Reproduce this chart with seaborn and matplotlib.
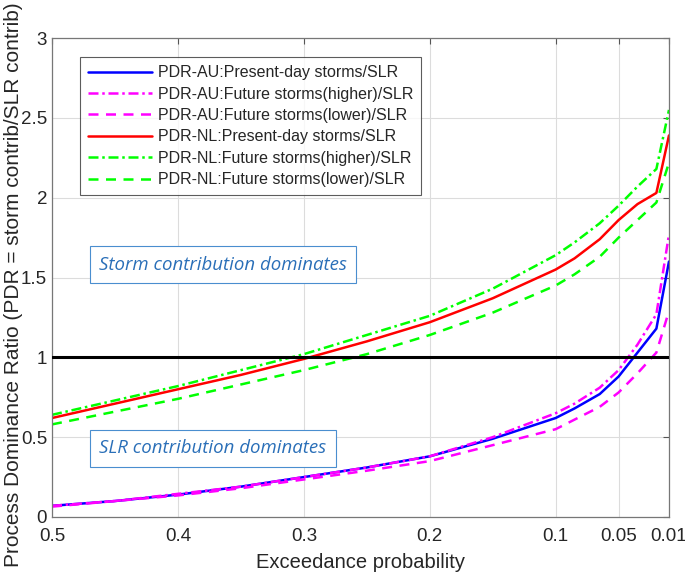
import numpy as np
import pandas as pd
import matplotlib
matplotlib.use("Agg")
import matplotlib.pyplot as plt
import seaborn as sns

# ---- data ----
prob = [0.5, 0.45, 0.4, 0.35, 0.3, 0.25, 0.2, 0.15, 0.1, 0.085, 0.065, 0.05, 0.035, 0.02, 0.01]
au_present = [0.07, 0.10, 0.14, 0.19, 0.25, 0.31, 0.38, 0.49, 0.62, 0.68, 0.77, 0.88, 1.03, 1.18, 1.60]
au_higher  = [0.07, 0.10, 0.145, 0.19, 0.25, 0.31, 0.38, 0.50, 0.65, 0.71, 0.81, 0.92, 1.08, 1.27, 1.77]
au_lower   = [0.065, 0.10, 0.135, 0.18, 0.235, 0.29, 0.35, 0.45, 0.55, 0.61, 0.69, 0.78, 0.90, 1.03, 1.29]
nl_present = [0.62, 0.71, 0.80, 0.89, 0.99, 1.10, 1.22, 1.37, 1.55, 1.62, 1.74, 1.86, 1.96, 2.03, 2.39]
nl_higher  = [0.64, 0.73, 0.82, 0.92, 1.02, 1.14, 1.26, 1.43, 1.64, 1.72, 1.84, 1.95, 2.07, 2.18, 2.55]
nl_lower   = [0.58, 0.66, 0.74, 0.83, 0.92, 1.02, 1.14, 1.28, 1.45, 1.52, 1.63, 1.75, 1.86, 1.97, 2.22]

labels = ["PDR-AU:Present-day storms/SLR",
          "PDR-AU:Future storms(higher)/SLR",
          "PDR-AU:Future storms(lower)/SLR",
          "PDR-NL:Present-day storms/SLR",
          "PDR-NL:Future storms(higher)/SLR",
          "PDR-NL:Future storms(lower)/SLR"]
series = [au_present, au_higher, au_lower, nl_present, nl_higher, nl_lower]
colors = ["#0000ff", "#ff00ff", "#ff00ff", "#ff0000", "#00ff00", "#00ff00"]
styles = ["-", (0, (4, 1.5, 1, 1.5)), (0, (4, 3)), "-", (0, (4, 1.5, 1, 1.5)), (0, (4, 3))]

xticks = [0.5, 0.4, 0.3, 0.2, 0.1, 0.05, 0.01]
xticklabels = ["0.5", "0.4", "0.3", "0.2", "0.1", "0.05", "0.01"]
yticks = [0, 0.5, 1, 1.5, 2, 2.5, 3]
yticklabels = ["0", "0.5", "1", "1.5", "2", "2.5", "3"]

sns.set_style("white")
plt.rcParams['font.family'] = ['Liberation Sans', 'DejaVu Sans']

fig = plt.figure(figsize=(6.85, 5.77), dpi=100)
ax = fig.add_axes([0.0759, 0.104, 0.9007, 0.830])

for lab, vals, c, ls in zip(labels, series, colors, styles):
    df = pd.DataFrame({"p": prob, "v": vals})
    sns.lineplot(data=df, x="p", y="v", ax=ax, color=c, linestyle=ls,
                 linewidth=1.8, label=lab, sort=False)

ax.axhline(1.0, color="black", linewidth=2.2, zorder=3)

ax.set_xlim(0.5, 0.01)
ax.set_ylim(0, 3)
ax.set_xticks(xticks)
ax.set_xticklabels(xticklabels)
ax.set_yticks(yticks)
ax.set_yticklabels(yticklabels)
ax.grid(True, color="#dcdcdc", linewidth=0.8)
ax.set_axisbelow(True)
ax.tick_params(direction="in", length=4, color="#555555", labelsize=13.5,
               labelcolor="#262626", top=True, right=True, width=0.8)
ax.tick_params(axis="x", pad=8)
for s in ax.spines.values():
    s.set_color("#777777")
    s.set_linewidth(0.9)

ax.set_xlabel("Exceedance probability", fontsize=14.5, color="#262626", labelpad=6)
ax.set_ylabel("Process Dominance Ratio (PDR = storm contrib/SLR contrib)",
              fontsize=15.0, color="#262626")
ax.yaxis.set_label_coords(-0.047, 0.485)

leg = ax.legend(loc="upper left", bbox_to_anchor=(0.045, 0.96), fontsize=11.5,
                handlelength=4.0, frameon=True, fancybox=False, borderpad=0.5,
                labelspacing=0.4, handletextpad=0.4, borderaxespad=0)
leg.get_frame().set_edgecolor("#333333")
leg.get_frame().set_linewidth(0.8)

box = dict(boxstyle="square,pad=0.5", facecolor="white", edgecolor="#4a8ecf", linewidth=0.8)
ax.text(0.4625, 1.58, "Storm contribution dominates", fontsize=13.4, style="italic",
        color="#2a6fb8", family=["Open Sans", "DejaVu Sans"], va="center", ha="left", bbox=box)
ax.text(0.4625, 0.43, "SLR contribution dominates", fontsize=13.4, style="italic",
        color="#2a6fb8", family=["Open Sans", "DejaVu Sans"], va="center", ha="left", bbox=box)

fig.savefig("out.png", dpi=100)
